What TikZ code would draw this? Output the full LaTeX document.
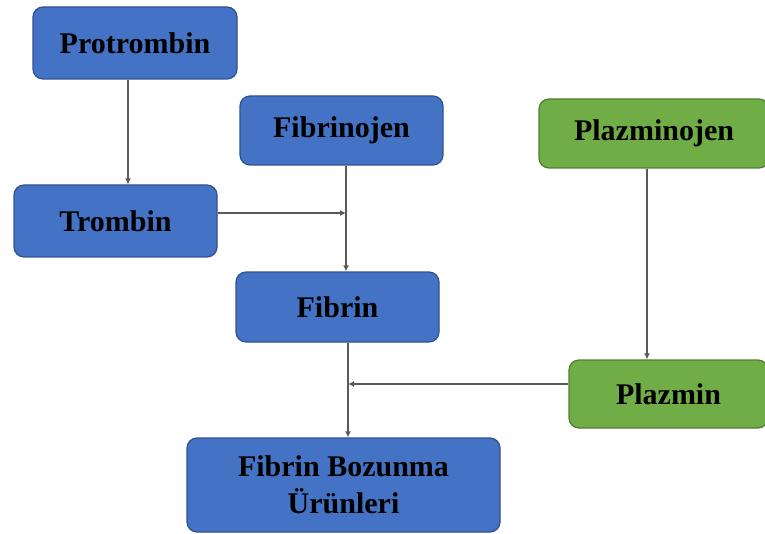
\documentclass[tikz,border=0pt]{standalone}
\usepackage{fontspec}
\setmainfont{Liberation Serif}
\usetikzlibrary{arrows.meta}

\definecolor{boxblue}{HTML}{4472C4}
\definecolor{lineblue}{HTML}{2F528F}
\definecolor{boxgreen}{HTML}{70AD47}
\definecolor{linegreen}{HTML}{507E32}

\begin{document}
\begin{tikzpicture}[x=0.5pt, y=-0.5pt,
    box/.style={draw=lineblue, fill=boxblue, line width=0.6pt, rounded corners=5pt,
        inner sep=0pt, align=center, font=\fontsize{15}{18.5}\selectfont\bfseries},
    gbox/.style={box, draw=linegreen, fill=boxgreen},
    conn/.style={draw=black!65, line width=0.8pt, -{Latex[length=3pt,width=3pt]}}]
        \useasboundingbox (0,0) rectangle (765,534);

        \coordinate (ptline) at (128,0);
        \coordinate (pline) at (647,0);
        \coordinate (j1) at (346,213);
        \coordinate (j2) at (348,384);

        \node[box, minimum width=102pt, minimum height=36pt] (prot) at (135,43) {Protrombin};
        \node[box, minimum width=101.5pt, minimum height=34.5pt] (fibrinojen) at (341.5,130.5) {Fibrinojen};
        \node[gbox, minimum width=115pt, minimum height=34.5pt] (plazminojen) at (654,133.5) {Plazminojen};
        \node[box, minimum width=101.5pt, minimum height=36pt] (trombin) at (115.5,221) {Trombin};
        \node[box, minimum width=101.5pt, minimum height=35pt] (fibrin) at (337.5,307) {Fibrin};
        \node[gbox, minimum width=99.5pt, minimum height=34pt] (plazmin) at (668.5,394) {Plazmin};
        \node[box, minimum width=156.5pt, minimum height=47pt] (fbu) at (343.5,485) {Fibrin Bozunma\\Ürünleri};

        \draw[conn] (prot.south -| ptline) -- (trombin.north -| ptline);
        \draw[conn] (fibrinojen.south -| j1) -- (fibrin.north -| j1);
        \draw[conn] (trombin.east |- j1) -- (j1);
        \draw[conn] (plazminojen.south -| pline) -- (plazmin.north -| pline);
        \draw[conn] (fibrin.south -| j2) -- (fbu.north -| j2);
        \draw[conn] (plazmin.west |- j2) -- (j2);

    \end{tikzpicture}
\end{document}
